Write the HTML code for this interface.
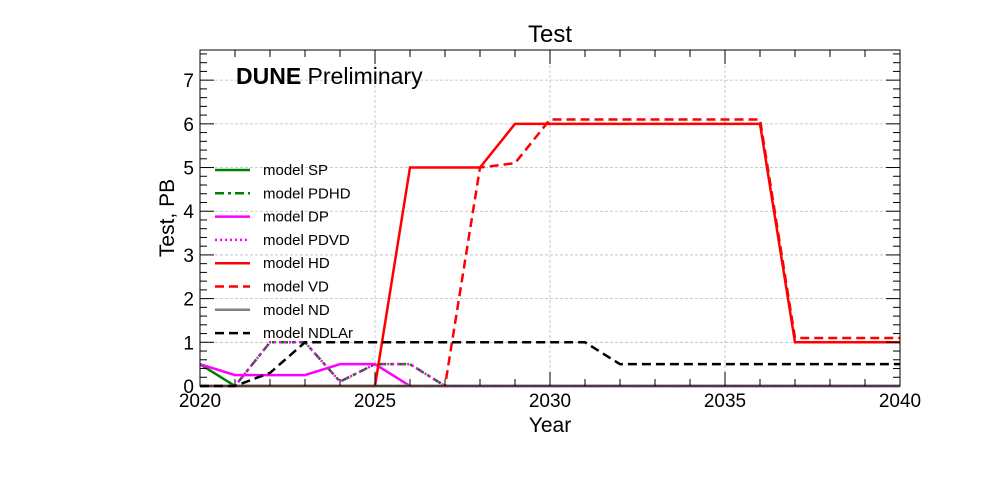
<!DOCTYPE html>
<html><head><meta charset="utf-8"><style>
html,body{margin:0;padding:0;background:#fff;}
svg{display:block;font-family:"Liberation Sans",sans-serif;}
</style></head><body>
<svg id="chart" width="1000" height="500">
<rect width="1000" height="500" fill="#fff"/>
<g id="grid"></g>
<g id="series"></g>
<g id="axes"></g>
<text x="550" y="42" font-size="24" text-anchor="middle">Test</text>
<text x="550" y="432" font-size="21" text-anchor="middle">Year</text>
<text transform="translate(174,218) rotate(-90)" font-size="21" text-anchor="middle">Test, PB</text>
<text x="236" y="84" font-size="23"><tspan font-weight="bold">DUNE</tspan> Preliminary</text>
<g id="legend"></g>
</svg>
<script>
const years = [2020,2021,2022,2023,2024,2025,2026,2027,2028,2029,2030,2031,2032,2033,2034,2035,2036,2037,2038,2039,2040];
const seriesNames = ["model SP","model PDHD","model DP","model PDVD","model HD","model VD","model ND","model NDLAr"];
const sp    = [0.5,0,0,0,0,0,0,0,0,0,0,0,0,0,0,0,0,0,0,0,0];
const pdhd  = [0,0,1,1,0.1,0.5,0.5,0,0,0,0,0,0,0,0,0,0,0,0,0,0];
const dp    = [0.5,0.25,0.25,0.25,0.5,0.5,0,0,0,0,0,0,0,0,0,0,0,0,0,0,0];
const pdvd  = [0,0,1,1,0.1,0.5,0.5,0,0,0,0,0,0,0,0,0,0,0,0,0,0];
const hd    = [0,0,0,0,0,0,5,5,5,6,6,6,6,6,6,6,6,1,1,1,1];
const vd    = [0,0,0,0,0,0,0,0,5,5.1,6.1,6.1,6.1,6.1,6.1,6.1,6.1,1.1,1.1,1.1,1.1];
const nd    = [0,0,0,0,0,0,0,0,0,0,0,0,0,0,0,0,0,0,0,0,0];
const ndlar = [0,0,0.3,1,1,1,1,1,1,1,1,1,0.5,0.5,0.5,0.5,0.5,0.5,0.5,0.5,0.5];
const xTicks = [2020,2025,2030,2035,2040];
const yTicks = [0,1,2,3,4,5,6,7];

const NS="http://www.w3.org/2000/svg";
const L=200,R=900,T=50,B=386,XMIN=2020,XMAX=2040,YMIN=0,YMAX=7.69;
const sx=v=>L+(v-XMIN)/(XMAX-XMIN)*(R-L);
const sy=v=>B-(v-YMIN)/(YMAX-YMIN)*(B-T);
function mk(tag,attrs,parent){const e=document.createElementNS(NS,tag);for(const k in attrs)e.setAttribute(k,attrs[k]);parent.appendChild(e);return e;}
const grid=document.getElementById('grid'),axes=document.getElementById('axes'),ser=document.getElementById('series'),leg=document.getElementById('legend');

xTicks.forEach(v=>{const g=mk('line',{x1:sx(v),x2:sx(v),y1:T,y2:B,stroke:'#bbb','stroke-width':0.8,'stroke-dasharray':'3,2'},grid);

});
yTicks.forEach(v=>{const g=mk('line',{x1:L,x2:R,y1:sy(v),y2:sy(v),stroke:'#bbb','stroke-width':0.8,'stroke-dasharray':'3,2'},grid);

});

const styles=[
 {d:sp,c:'green',dash:''},
 {d:pdhd,c:'green',dash:'9,4,3,4'},
 {d:dp,c:'magenta',dash:''},
 {d:pdvd,c:'magenta',dash:'2,3'},
 {d:hd,c:'red',dash:''},
 {d:vd,c:'red',dash:'9,5'},
 {d:nd,c:'gray',dash:''},
 {d:ndlar,c:'black',dash:'9,5'}];
styles.forEach((s,i)=>{
 const pts=s.d.map((v,j)=>sx(years[j])+','+sy(v)).join(' ');
 const p=mk('polyline',{points:pts,fill:'none',stroke:s.c,'stroke-width':2.5,'stroke-dasharray':s.dash},ser);
 
 
 const y=170+i*23.3;
 const ll=mk('line',{x1:215,x2:250,y1:y,y2:y,stroke:s.c,'stroke-width':2.5,'stroke-dasharray':s.dash},leg);
 
 
 const t=mk('text',{x:263,y:y+5,'font-size':15},leg);t.textContent=seriesNames[i];
 
 
});

const fr=mk('rect',{x:L,y:T,width:R-L,height:B-T,fill:'none',stroke:'#000','stroke-width':1},axes);


for(let v=XMIN;v<=XMAX;v++){const maj=v%5===0,len=maj?14:7;
 mk('line',{x1:sx(v),x2:sx(v),y1:B,y2:B-len,stroke:'#000'},axes);
 mk('line',{x1:sx(v),x2:sx(v),y1:T,y2:T+len,stroke:'#000'},axes);}
for(let k=0;k<=38;k++){const v=k*0.2,maj=k%5===0,len=maj?14:7;
 mk('line',{x1:L,x2:L+len,y1:sy(v),y2:sy(v),stroke:'#000'},axes);
 mk('line',{x1:R,x2:R-len,y1:sy(v),y2:sy(v),stroke:'#000'},axes);}
xTicks.forEach(v=>{const t=mk('text',{x:sx(v),y:B+21,'font-size':19,'text-anchor':'middle'},axes);t.textContent=v;
 
 });
yTicks.forEach(v=>{const t=mk('text',{x:L-6,y:sy(v)+7,'font-size':19,'text-anchor':'end'},axes);t.textContent=v;
 
 });
</script>
</body></html>
